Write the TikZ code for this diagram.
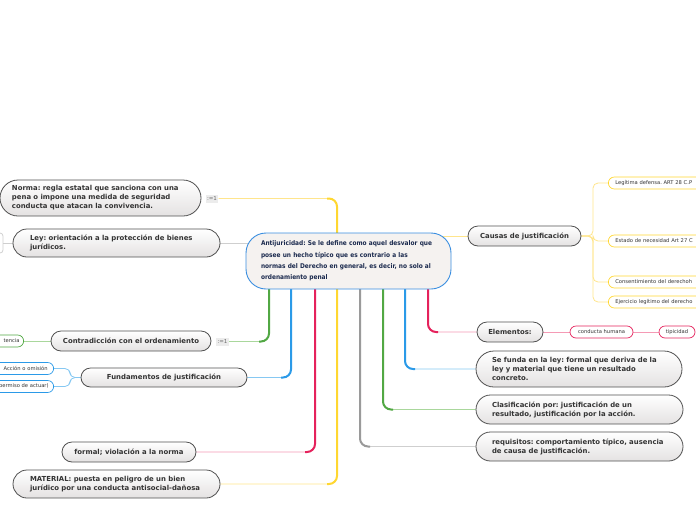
\documentclass[tikz,border=0pt]{standalone}
\usepackage{fontspec}
\setmainfont{DejaVu Sans}
\newfontfamily\condfont{DejaVu Sans Condensed}
\usetikzlibrary{calc}
\pgfdeclarelayer{bg}
\pgfsetlayers{bg,main}
\frenchspacing
\definecolor{nodeborder}{HTML}{505050}
\definecolor{nodebot}{HTML}{E4E2E2}
\definecolor{nodetext}{HTML}{333333}
\definecolor{centertext}{HTML}{1B2A4E}
\definecolor{centerfill}{HTML}{F5F2F0}
\definecolor{centerborder}{HTML}{3A8EE0}
\definecolor{ythick}{HTML}{FFD731}
\definecolor{ylight}{HTML}{FFE58C}
\definecolor{gthick}{HTML}{52A844}
\definecolor{glight}{HTML}{A9D79C}
\definecolor{bthick}{HTML}{2B9AE8}
\definecolor{blight}{HTML}{86C8F2}
\definecolor{rthick}{HTML}{E5225C}
\definecolor{rlight}{HTML}{F59AB5}
\definecolor{kthick}{HTML}{9A9A9A}
\definecolor{klight}{HTML}{CFCFCF}
\definecolor{labfill}{HTML}{ECECEC}
\definecolor{labtext}{HTML}{666666}
\tikzset{
  topic/.style={draw=nodeborder, line width=0.8pt, top color=white, bottom color=nodebot,
    text=nodetext, font=\frenchspacing\bfseries\fontsize{6.9}{9}\selectfont, inner ysep=0pt},
  leaf/.style={draw=#1, fill=white, line width=0.7pt, rounded corners=6pt, minimum height=12pt,
    font=\fontsize{5.2}{6}\selectfont, text=nodetext, inner ysep=0pt},
  lab/.style={fill=labfill, text=labtext, font=\fontsize{5.5}{6}\selectfont, inner sep=1.5pt, minimum height=8pt},
  thin/.style={line width=0.9pt, rounded corners=8pt},
  fat/.style={line width=2pt, rounded corners=8pt},
}
\begin{document}
\begin{tikzpicture}[x=1pt,y=-1pt]
\useasboundingbox (0,0) rectangle (696,520);
\clip (0,0) rectangle (696,520);

% central
\node[draw=centerborder, line width=0.9pt, fill=centerfill, rounded corners=20pt,
  minimum width=205pt, minimum height=56pt, text width=175pt, inner xsep=15pt, inner ysep=0pt,
  align=left, text=centertext, font=\frenchspacing\condfont\bfseries\fontsize{6.5}{11.3}\selectfont]
  (center) at (348.5,261) {Antijuricidad: Se le define como aquel desvalor que\\posee un hecho típico que es contrario a las\\normas del Derecho en general, es decir, no solo al\\ordenamiento penal};

% left topics
\node[topic, rounded corners=18pt, minimum width=201pt, minimum height=36pt, text width=177pt, inner xsep=12pt, align=left]
  (norma) at (100.5,198) {Norma: regla estatal que sanciona con una\\pena o impone una medida de seguridad\\conducta que atacan la convivencia.};
\node[lab] (lab1) at (212,198.5) {:=1};
\node[topic, rounded corners=14pt, minimum width=207pt, minimum height=28pt, text width=173pt, inner xsep=17pt, align=left]
  (ley) at (116.5,243) {Ley: orientación a la protección de bienes\\jurídicos.};
\node[topic, rounded corners=10pt, minimum width=160pt, minimum height=20pt]
  (contr) at (131,341) {Contradicción con el ordenamiento};
\node[lab] (lab2) at (222.5,341.5) {:=1};
\node[topic, rounded corners=9.5pt, minimum width=166pt, minimum height=19pt]
  (fund) at (164,377.5) {Fundamentos de justificación};
\node[topic, rounded corners=10pt, minimum width=134pt, minimum height=20pt]
  (formal) at (129,452) {formal; violación a la norma};
\node[topic, rounded corners=14pt, minimum width=207pt, minimum height=28pt, text width=173pt, inner xsep=17pt, align=left]
  (material) at (116.5,484) {MATERIAL: puesta en peligro de un bien\\jurídico por una conducta antisocial-dañosa};

% left leaves
\node[leaf=gthick, anchor=east, text width=40pt, inner xsep=4pt, align=right] (tencia) at (24,341) {tencia};
\node[leaf=bthick, anchor=east, text width=60pt, inner xsep=6pt, align=right] (accion) at (54,368.5) {Acción o omisión};
\node[leaf=bthick, anchor=east, text width=60pt, inner xsep=5pt, align=right] (permiso) at (54,386.5) {(permiso de actuar)};

% right topics
\node[topic, rounded corners=10pt, minimum width=113pt, minimum height=20pt]
  (causas) at (524.5,236) {Causas de justificación};
\node[topic, rounded corners=10pt, minimum width=66pt, minimum height=20pt]
  (elem) at (510,332) {Elementos:};
\node[topic, rounded corners=18pt, minimum width=206pt, minimum height=36pt, text width=174pt, inner xsep=16pt, align=left]
  (funda) at (579,369) {Se funda en la ley: formal que deriva de la\\ley y material que tiene un resultado\\concreto.};
\node[topic, rounded corners=14.5pt, minimum width=207pt, minimum height=29pt, text width=175pt, inner xsep=16pt, align=left]
  (clasif) at (579.5,409.5) {Clasificación por: justificación de un\\resultado, justificación por la acción.};
\node[topic, rounded corners=14.5pt, minimum width=207pt, minimum height=29pt, text width=175pt, inner xsep=16pt, align=left]
  (requis) at (579.5,446.5) {requisitos: comportamiento típico, ausencia\\de causa de justificación.};

% right leaves
\node[leaf=ythick, anchor=west, text width=110pt, inner xsep=7pt, align=left] (legit) at (608,183) {Legítima defensa. ART 28 C.P};
\node[leaf=ythick, anchor=west, text width=110pt, inner xsep=7pt, align=left] (estado) at (608,241) {Estado de necesidad Art 27 C};
\node[leaf=ythick, anchor=west, text width=110pt, inner xsep=7pt, align=left] (consent) at (608,282) {Consentimiento del derechoh};
\node[leaf=ythick, anchor=west, text width=110pt, inner xsep=7pt, align=left] (ejerc) at (608,302) {Ejercicio legítimo del derecho};
\node[leaf=rthick, minimum width=63pt, inner xsep=2pt] (conducta) at (601.5,332) {conducta humana};
\node[leaf=rthick, minimum width=36pt, inner xsep=2pt] (tipic) at (677,332) {tipicidad};

% anchor coordinates for the branch columns (inside the central node)
\coordinate (gcol) at (269,261);
\coordinate (bcol) at (291,261);
\coordinate (rcol) at (315,261);
\coordinate (ycol) at (337,261);
\coordinate (kcol) at (360,261);
\coordinate (g2col) at (383,261);
\coordinate (b2col) at (405,261);
\coordinate (r2col) at (428,261);
\coordinate (leyj) at (3,243);
\coordinate (leyA) at (-6,233);
\coordinate (leyB) at (-6,253);
\coordinate (cj) at (593,236);
\coordinate (fj) at (70,377.5);

\begin{pgfonlayer}{bg}
  % yellow
  \draw[thin, ylight] (lab1.east) -| (ycol) |- (material.east);
  \draw[fat, ythick] ($(lab1.east -| ycol)+(-10,0)$) -| (ycol) |- ($(material.east -| ycol)+(-10,0)$);
  % green left
  \draw[thin, glight] (lab2.east) -| (gcol);
  \draw[fat, gthick] ($(lab2.east -| gcol)+(-10,0)$) -| (gcol);
  % blue left
  \draw[thin, blight] (fund.east) -| (bcol);
  \draw[fat, bthick] ($(fund.east -| bcol)+(-10,0)$) -| (bcol);
  % crimson left
  \draw[thin, rlight] (formal.east) -| (rcol);
  \draw[fat, rthick] ($(formal.east -| rcol)+(-10,0)$) -| (rcol);
  % gray right
  \draw[thin, klight] (kcol) |- (requis.west);
  \draw[fat, kthick] (kcol) |- ($(requis.west -| kcol)+(10,0)$);
  % green right
  \draw[thin, glight] (g2col) |- (clasif.west);
  \draw[fat, gthick] (g2col) |- ($(clasif.west -| g2col)+(10,0)$);
  % blue right
  \draw[thin, blight] (b2col) |- (funda.west);
  \draw[fat, bthick] (b2col) |- ($(funda.west -| b2col)+(10,0)$);
  % crimson right
  \draw[thin, rlight] (r2col) |- (elem.west);
  \draw[fat, rthick] (r2col) |- ($(elem.west -| r2col)+(10,0)$);
  % ley & causas
  \draw[line width=0.9pt, klight] (ley.east) -- (ley.east -| center.center);
  \draw[line width=0.9pt, ylight] (causas.west) -- (causas.west -| center.center);
  % causas leaves
  \draw[line width=0.8pt, ylight, rounded corners=5pt] (causas.east) -- (cj) |- (legit.west);
  \draw[line width=0.8pt, ylight, rounded corners=5pt] (causas.east) -- (cj) |- (estado.west);
  \draw[line width=0.8pt, ylight, rounded corners=5pt] (causas.east) -- (cj) |- (consent.west);
  \draw[line width=0.8pt, ylight, rounded corners=5pt] (causas.east) -- (cj) |- (ejerc.west);
  % elementos leaves
  \draw[line width=0.8pt, rlight] (elem.east) -- (conducta.west);
  \draw[line width=0.8pt, rlight] (conducta.east) -- (tipic.west);
  % fundamentos leaves
  \draw[line width=0.8pt, blight, rounded corners=5pt] (fund.west) -- (fj) |- (accion.east);
  \draw[line width=0.8pt, blight, rounded corners=5pt] (fund.west) -- (fj) |- (permiso.east);
  % contradiccion leaf
  \draw[line width=0.8pt, glight] (contr.west) -- (tencia.east);
  % ley leaf bracket
  \draw[line width=0.8pt, klight] (ley.west) -- (leyj);
  \draw[line width=0.8pt, klight, rounded corners=3pt] (leyA) -- (leyA -| leyj) -- (leyB -| leyj) -- (leyB);
\end{pgfonlayer}
\end{tikzpicture}
\end{document}
